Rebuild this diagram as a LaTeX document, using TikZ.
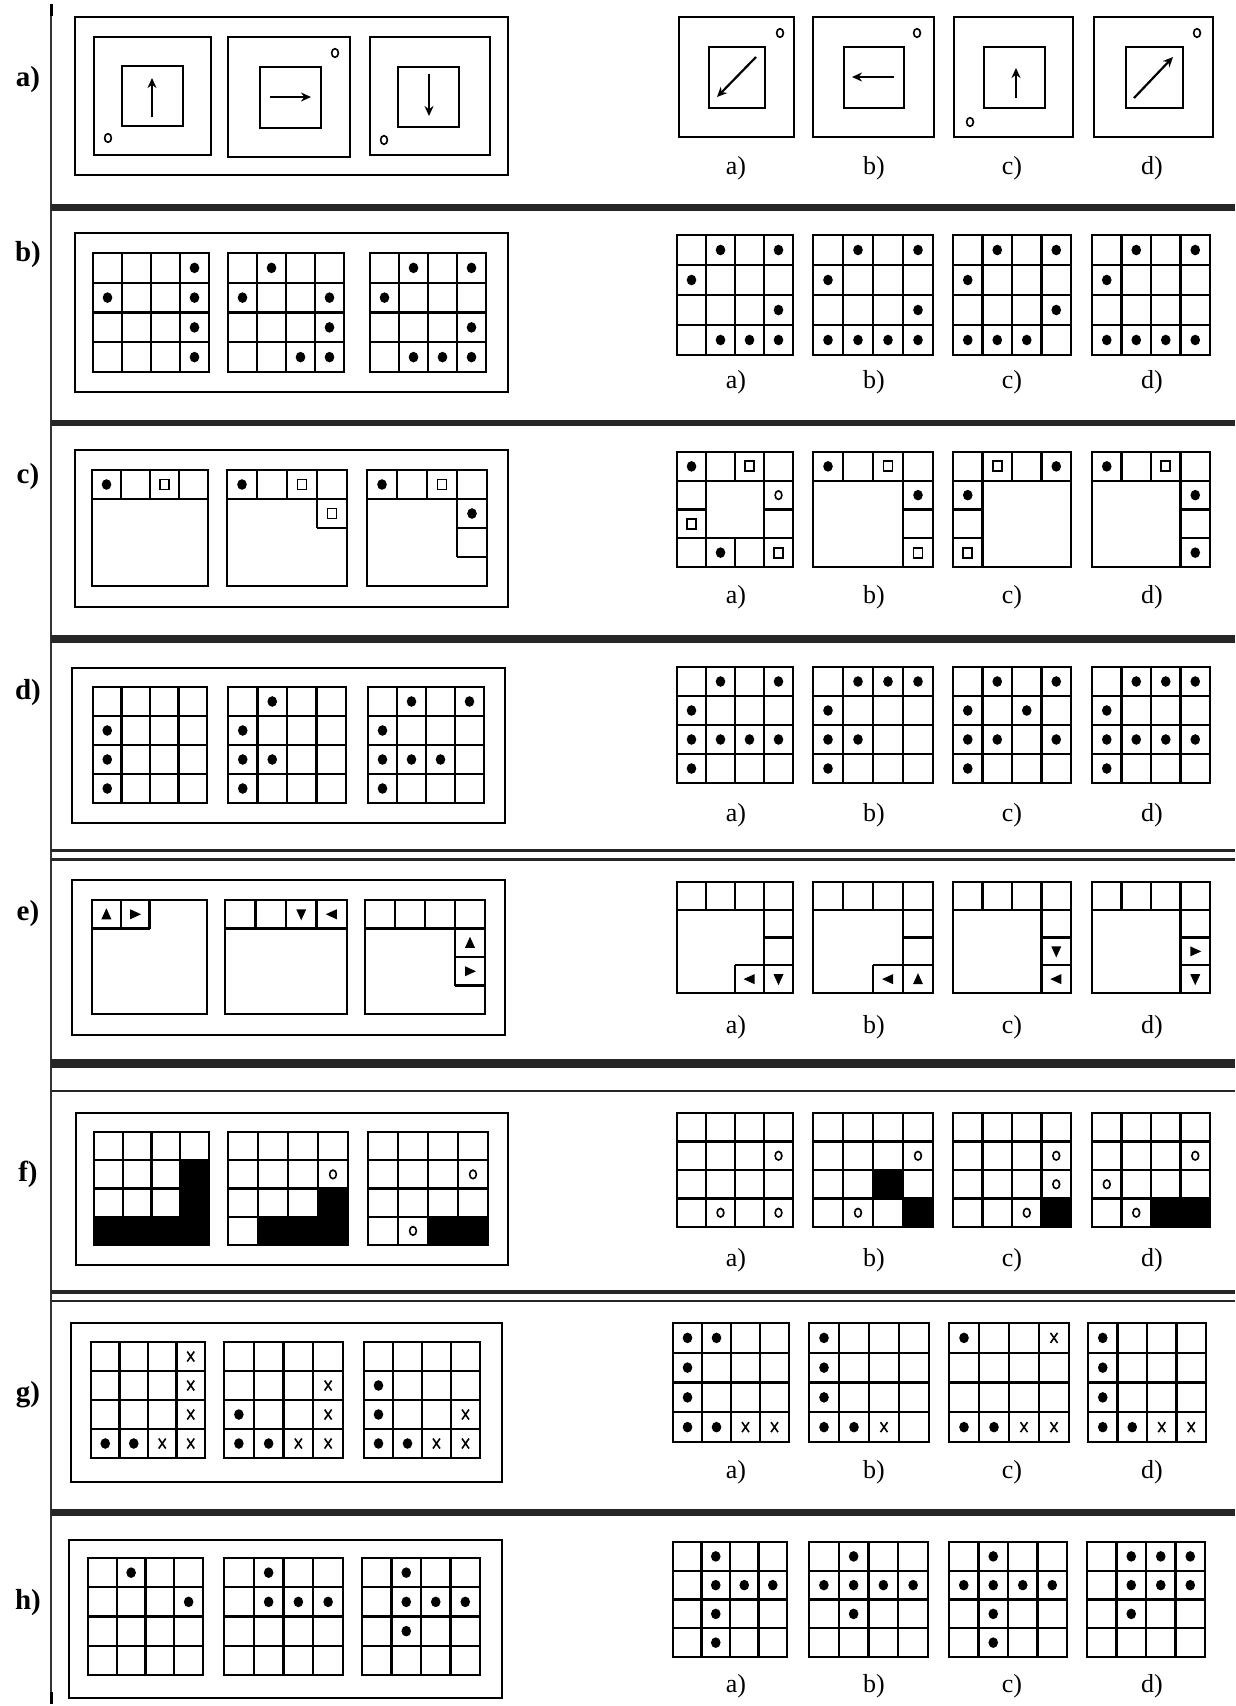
\documentclass[tikz,border=0pt]{standalone}
\usepackage{fontspec}
\setmainfont{Liberation Serif}
\usetikzlibrary{arrows.meta}
\tikzset{
 gl/.style={line width=2.4pt},
 pan/.style={line width=2.6pt},
 sepl/.style={line width=#1, black!85},
 arr/.style={line width=2.2pt,-{Stealth[length=10pt,width=9pt]}},
 ring/.style={line width=1.6pt},
 rowlab/.style={font=\bfseries\fontsize{29}{29}\selectfont, inner sep=0pt},
 optlab/.style={font=\fontsize{26}{26}\selectfont, inner sep=0pt},
}
\newcommand\setg[4]{\gdef\gxa{#1}\gdef\gya{#2}\gdef\gxb{#3}\gdef\gyb{#4}}
\newcommand\gx[1]{\gxa+(#1)*(\gxb-\gxa)/4}
\newcommand\gy[1]{\gya+(#1)*(\gyb-\gya)/4}
\newcommand\gvl[3]{\draw[gl] ({\gx{#1}},{\gy{#2}}) -- ({\gx{#1}},{\gy{#3}});}
\newcommand\ghl[3]{\draw[gl] ({\gx{#2}},{\gy{#1}}) -- ({\gx{#3}},{\gy{#1}});}
\newcommand\gbox{\draw[gl] (\gxa,\gya) rectangle (\gxb,\gyb);}
\newcommand\fullgrid{\gbox\foreach \k in {1,2,3}{\gvl{\k}{0}{4}\ghl{\k}{0}{4}}}
\newcommand\gdots[1]{\foreach \ci/\ri in {#1}{\fill ({\gx{\ci-0.5}},{\gy{\ri-0.5}}) ellipse (4.8pt and 5.3pt);}}
\newcommand\grings[1]{\foreach \ci/\ri in {#1}{\draw[ring] ({\gx{\ci-0.5}},{\gy{\ri-0.5}}) ellipse (3.4pt and 4.3pt);}}
\newcommand\gsqs[1]{\foreach \ci/\ri in {#1}{\draw[line width=1.8pt] ({\gx{\ci-0.5}-4.5},{\gy{\ri-0.5}-5}) rectangle ++(9,10);}}
\newcommand\gcross[1]{\foreach \ci/\ri in {#1}{\draw[line width=1.6pt] ({\gx{\ci-0.5}-3.5},{\gy{\ri-0.5}-5}) -- ++(7,10) ({\gx{\ci-0.5}+3.5},{\gy{\ri-0.5}-5}) -- ++(-7,10);}}
\newcommand\gblack[1]{\foreach \ci/\ri in {#1}{\fill ({\gx{\ci-1}},{\gy{\ri-1}}) rectangle ({\gx{\ci}},{\gy{\ri}});}}
\newcommand\tup[2]{\fill ({\gx{#1-0.5}},{\gy{#2-0.5}-6}) -- ++(5,11) -- ++(-10,0) -- cycle;}
\newcommand\tdn[2]{\fill ({\gx{#1-0.5}},{\gy{#2-0.5}+6}) -- ++(5,-11) -- ++(-10,0) -- cycle;}
\newcommand\trt[2]{\fill ({\gx{#1-0.5}+6},{\gy{#2-0.5}}) -- ++(-11,-5) -- ++(0,10) -- cycle;}
\newcommand\tlt[2]{\fill ({\gx{#1-0.5}-6},{\gy{#2-0.5}}) -- ++(11,-5) -- ++(0,10) -- cycle;}
\newcommand\optlabels[2]{% y, row name
 \node[optlab] (#2oa) at (736,#1) {a)};
 \node[optlab] (#2ob) at (874,#1) {b)};
 \node[optlab] (#2oc) at (1012,#1) {c)};
 \node[optlab] (#2od) at (1152,#1) {d)};}
\begin{document}
\begin{tikzpicture}[x=1pt,y=-1pt]
\useasboundingbox (0,0) rectangle (1235,1706);
\fill[white] (0,0) rectangle (1235,1706);
% left rule and separators
\draw[line width=1.2pt, black!80] (51,4) -- (51,1704);
\draw[line width=3pt] (51,4) -- (51,16);
\draw[line width=3pt] (51,1692) -- (51,1704);
\draw[sepl=7pt] (51,207) -- (1235,207);
\draw[sepl=6pt] (51,423) -- (1235,423);
\draw[sepl=8pt] (51,639) -- (1235,639);
\draw[sepl=3pt] (51,850) -- (1235,850);
\draw[sepl=3pt] (51,859) -- (1235,859);
\draw[sepl=9pt] (51,1063) -- (1235,1063);
\draw[sepl=2.5pt] (51,1091) -- (1235,1091);
\draw[sepl=3.5pt] (51,1292) -- (1235,1292);
\draw[sepl=2.5pt] (51,1301) -- (1235,1301);
\draw[sepl=7pt] (51,1512) -- (1235,1512);
% row labels
\node[rowlab] (ra) at (28,80) {a)};
\node[rowlab] (rb) at (28,255) {b)};
\node[rowlab] (rc) at (28,477) {c)};
\node[rowlab] (rd) at (28,693) {d)};
\node[rowlab] (re) at (28,914) {e)};
\node[rowlab] (rf) at (28,1174) {f)};
\node[rowlab] (rg) at (28,1395) {g)};
\node[rowlab] (rh) at (28,1603) {h)};

% ================= ROW a
\draw[pan] (75,17) rectangle (508,175);
\draw[gl] (94,37) rectangle (211,155);
\draw[gl] (122,66) rectangle (183,126);
\draw[arr] (152,117) -- (152,78);
\draw[ring] (108,138) ellipse (3.4pt and 4.3pt);
\draw[gl] (228,37) rectangle (350,157);
\draw[gl] (260,67) rectangle (321,128);
\draw[arr] (270,97) -- (311,97);
\draw[ring] (335,53) ellipse (3.4pt and 4.3pt);
\draw[gl] (370,37) rectangle (490,155);
\draw[gl] (398,67) rectangle (459,127);
\draw[arr] (429,74) -- (429,116);
\draw[ring] (384,140) ellipse (3.4pt and 4.3pt);
% options a
\draw[gl] (679,17) rectangle (794,137);
\draw[gl] (709,47) rectangle (765,108);
\draw[arr] (756,57) -- (717,97);
\draw[ring] (780,33) ellipse (3.4pt and 4.3pt);
\draw[gl] (813,17) rectangle (934,137);
\draw[gl] (844,47) rectangle (904,108);
\draw[arr] (894,77) -- (852,77);
\draw[ring] (917,33) ellipse (3.4pt and 4.3pt);
\draw[gl] (954,17) rectangle (1073,137);
\draw[gl] (984,47) rectangle (1045,108);
\draw[arr] (1016,98) -- (1016,68);
\draw[ring] (970,122) ellipse (3.4pt and 4.3pt);
\draw[gl] (1094,17) rectangle (1213,137);
\draw[gl] (1126,47) rectangle (1183,108);
\draw[arr] (1134,98) -- (1173,57);
\draw[ring] (1197,33) ellipse (3.4pt and 4.3pt);
\optlabels{168}{a}

% ================= ROW b
\draw[pan] (75,233) rectangle (508,392);
\setg{93}{253}{209}{372}\fullgrid \gdots{4/1,1/2,4/2,4/3,4/4}
\setg{228}{253}{344}{372}\fullgrid \gdots{2/1,1/2,4/2,4/3,3/4,4/4}
\setg{370}{253}{486}{372}\fullgrid \gdots{2/1,4/1,1/2,4/3,2/4,3/4,4/4}
\setg{677}{235}{793}{355}\fullgrid \gdots{2/1,4/1,1/2,4/3,2/4,3/4,4/4}
\setg{813}{235}{933}{355}\fullgrid \gdots{2/1,4/1,1/2,4/3,1/4,2/4,3/4,4/4}
\setg{953}{235}{1071}{355}\fullgrid \gdots{2/1,4/1,1/2,4/3,1/4,2/4,3/4}
\setg{1092}{235}{1210}{355}\fullgrid \gdots{2/1,4/1,1/2,1/4,2/4,3/4,4/4}
\optlabels{382}{b}

% ================= ROW c
\draw[pan] (75,450) rectangle (508,607);
\setg{92}{470}{208}{586}\gbox \ghl{1}{0}{4}\gvl{1}{0}{1}\gvl{2}{0}{1}\gvl{3}{0}{1}
 \gdots{1/1}\gsqs{3/1}
\setg{227}{470}{347}{586}\gbox \ghl{1}{0}{4}\gvl{1}{0}{1}\gvl{2}{0}{1}\gvl{3}{0}{2}\ghl{2}{3}{4}
 \gdots{1/1}\gsqs{3/1,4/2}
\setg{367}{470}{487}{586}\gbox \ghl{1}{0}{4}\gvl{1}{0}{1}\gvl{2}{0}{1}\gvl{3}{0}{3}\ghl{2}{3}{4}\ghl{3}{3}{4}
 \gdots{1/1,4/2}\gsqs{3/1}
% options c
\setg{677}{452}{793}{567}\gbox \ghl{1}{0}{4}\ghl{3}{0}{4}\ghl{2}{0}{1}\ghl{2}{3}{4}
 \gvl{1}{0}{4}\gvl{3}{0}{4}\gvl{2}{0}{1}\gvl{2}{3}{4}
 \gdots{1/1,2/4}\gsqs{3/1,1/3,4/4}\grings{4/2}
\setg{813}{452}{933}{567}\gbox \ghl{1}{0}{4}\gvl{1}{0}{1}\gvl{2}{0}{1}\gvl{3}{0}{4}\ghl{2}{3}{4}\ghl{3}{3}{4}
 \gdots{1/1,4/2}\gsqs{3/1,4/4}
\setg{953}{452}{1071}{567}\gbox \ghl{1}{0}{4}\gvl{1}{0}{4}\gvl{2}{0}{1}\gvl{3}{0}{1}\ghl{2}{0}{1}\ghl{3}{0}{1}
 \gdots{4/1,1/2}\gsqs{2/1,1/4}
\setg{1092}{452}{1210}{567}\gbox \ghl{1}{0}{4}\gvl{1}{0}{1}\gvl{2}{0}{1}\gvl{3}{0}{4}\ghl{2}{3}{4}\ghl{3}{3}{4}
 \gdots{1/1,4/2,4/4}\gsqs{3/1}
\optlabels{597}{c}

% ================= ROW d
\draw[pan] (72,668) rectangle (505,823);
\setg{93}{687}{207}{803}\fullgrid \gdots{1/2,1/3,1/4}
\setg{228}{687}{346}{803}\fullgrid \gdots{2/1,1/2,1/3,2/3,1/4}
\setg{368}{687}{484}{803}\fullgrid \gdots{2/1,4/1,1/2,1/3,2/3,3/3,1/4}
\setg{677}{667}{793}{783}\fullgrid \gdots{2/1,4/1,1/2,1/3,2/3,3/3,4/3,1/4}
\setg{813}{667}{933}{783}\fullgrid \gdots{2/1,3/1,4/1,1/2,1/3,2/3,1/4}
\setg{953}{667}{1071}{783}\fullgrid \gdots{2/1,4/1,1/2,3/2,1/3,2/3,4/3,1/4}
\setg{1092}{667}{1210}{783}\fullgrid \gdots{2/1,3/1,4/1,1/2,1/3,2/3,3/3,4/3,1/4}
\optlabels{815}{d}

% ================= ROW e
\draw[pan] (72,880) rectangle (505,1035);
\setg{92}{900}{207}{1014}\gbox \ghl{1}{0}{2}\gvl{1}{0}{1}\gvl{2}{0}{1}
 \tup{1}{1}\trt{2}{1}
\setg{225}{900}{347}{1014}\gbox \ghl{1}{0}{4}\gvl{1}{0}{1}\gvl{2}{0}{1}\gvl{3}{0}{1}
 \tdn{3}{1}\tlt{4}{1}
\setg{365}{900}{485}{1014}\gbox \ghl{1}{0}{4}\gvl{1}{0}{1}\gvl{2}{0}{1}\gvl{3}{0}{3}\ghl{2}{3}{4}\ghl{3}{3}{4}
 \tup{4}{2}\trt{4}{3}
% options e
\setg{677}{882}{793}{993}\gbox \ghl{1}{0}{4}\gvl{1}{0}{1}\gvl{2}{0}{1}\gvl{3}{0}{4}\ghl{2}{3}{4}\ghl{3}{2}{4}\gvl{2}{3}{4}
 \tlt{3}{4}\tdn{4}{4}
\setg{813}{882}{933}{993}\gbox \ghl{1}{0}{4}\gvl{1}{0}{1}\gvl{2}{0}{1}\gvl{3}{0}{4}\ghl{2}{3}{4}\ghl{3}{2}{4}\gvl{2}{3}{4}
 \tlt{3}{4}\tup{4}{4}
\setg{953}{882}{1071}{993}\gbox \ghl{1}{0}{4}\gvl{1}{0}{1}\gvl{2}{0}{1}\gvl{3}{0}{4}\ghl{2}{3}{4}\ghl{3}{3}{4}
 \tdn{4}{3}\tlt{4}{4}
\setg{1092}{882}{1210}{993}\gbox \ghl{1}{0}{4}\gvl{1}{0}{1}\gvl{2}{0}{1}\gvl{3}{0}{4}\ghl{2}{3}{4}\ghl{3}{3}{4}
 \trt{4}{3}\tdn{4}{4}
\optlabels{1027}{e}

% ================= ROW f
\draw[pan] (76,1113) rectangle (508,1265);
\setg{94}{1132}{209}{1245}\gblack{4/2,4/3,4/4,1/4,2/4,3/4}\fullgrid
\setg{228}{1132}{348}{1245}\gblack{4/3,4/4,2/4,3/4}\fullgrid \grings{4/2}
\setg{368}{1132}{488}{1245}\gblack{3/4,4/4}\fullgrid \grings{4/2,2/4}
\setg{677}{1113}{793}{1227}\fullgrid \grings{4/2,2/4,4/4}
\setg{813}{1113}{933}{1227}\gblack{3/3,4/4}\fullgrid \grings{4/2,2/4}
\setg{953}{1113}{1071}{1227}\gblack{4/4}\fullgrid \grings{4/2,4/3,3/4}
\setg{1092}{1113}{1210}{1227}\gblack{3/4,4/4}\fullgrid \grings{4/2,1/3,2/4}
\optlabels{1260}{f}

% ================= ROW g
\draw[pan] (71,1323) rectangle (502,1482);
\setg{91}{1342}{205}{1458}\fullgrid \gdots{1/4,2/4}\gcross{4/1,4/2,4/3,3/4,4/4}
\setg{224}{1342}{343}{1458}\fullgrid \gdots{1/3,1/4,2/4}\gcross{4/2,4/3,3/4,4/4}
\setg{364}{1342}{480}{1458}\fullgrid \gdots{1/2,1/3,1/4,2/4}\gcross{4/3,3/4,4/4}
\setg{673}{1323}{789}{1442}\fullgrid \gdots{1/1,2/1,1/2,1/3,1/4,2/4}\gcross{3/4,4/4}
\setg{809}{1323}{929}{1442}\fullgrid \gdots{1/1,1/2,1/3,1/4,2/4}\gcross{3/4}
\setg{949}{1323}{1069}{1442}\fullgrid \gdots{1/1,1/4,2/4}\gcross{4/1,3/4,4/4}
\setg{1088}{1323}{1206}{1442}\fullgrid \gdots{1/1,1/2,1/3,1/4,2/4}\gcross{3/4,4/4}
\optlabels{1472}{g}

% ================= ROW h
\draw[pan] (69,1540) rectangle (502,1698);
\setg{88}{1558}{203}{1675}\fullgrid \gdots{2/1,4/2}
\setg{224}{1558}{343}{1675}\fullgrid \gdots{2/1,2/2,3/2,4/2}
\setg{362}{1558}{480}{1675}\fullgrid \gdots{2/1,2/2,3/2,4/2,2/3}
\setg{673}{1542}{787}{1657}\fullgrid \gdots{2/1,2/2,3/2,4/2,2/3,2/4}
\setg{809}{1542}{928}{1657}\fullgrid \gdots{2/1,1/2,2/2,3/2,4/2,2/3}
\setg{949}{1542}{1067}{1657}\fullgrid \gdots{2/1,1/2,2/2,3/2,4/2,2/3,2/4}
\setg{1087}{1542}{1205}{1657}\fullgrid \gdots{2/1,3/1,4/1,2/2,3/2,4/2,2/3}
\optlabels{1686}{h}
\end{tikzpicture}
\end{document}
